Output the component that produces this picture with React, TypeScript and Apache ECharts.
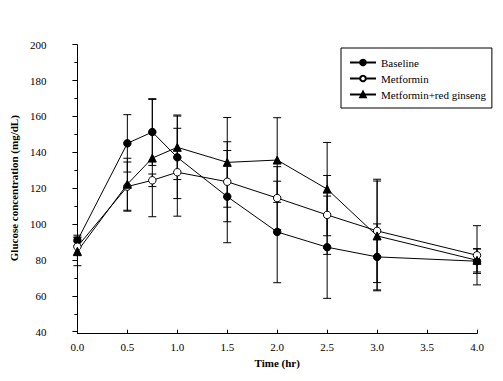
import React, { useEffect, useRef } from "react";
import * as echarts from "echarts";

const times = [0, 0.5, 0.75, 1.0, 1.5, 2.0, 2.5, 3.0, 4.0];
const baseline = [90.8, 145.0, 151.3, 137.2, 115.3, 95.6, 87.1, 81.7, 79.3];
const baselineSD = [3, 16, 18.6, 23, 25.7, 28.3, 28.5, 18.4, 6.8];
const metformin = [87.4, 120.9, 124.4, 128.9, 123.6, 114.5, 105.1, 96.2, 82.6];
const metforminSD = [5, 13.7, 3.5, 24.5, 22.3, 17.5, 22, 28.8, 16.5];
const ginseng = [84.8, 122.2, 136.8, 142.8, 134.4, 135.7, 119.5, 93.4, 79.8];
const ginsengSD = [8, 14.5, 32.7, 18, 25, 23.6, 26, 30.6, 6.5];
const seriesNames = ["Baseline", "Metformin", "Metformin+red ginseng"];

const FONT = "Liberation Serif";

function errData(vals: number[], sds: number[]) {
  return times.map((t, i) => [t, vals[i] - sds[i], vals[i] + sds[i]]);
}

function errorSeries(vals: number[], sds: number[]) {
  return {
    type: "custom",
    silent: true,
    z: 1,
    data: errData(vals, sds),
    encode: { x: 0, y: [1, 2] },
    renderItem: (params: any, api: any) => {
      const x = api.value(0);
      const lo = api.coord([x, api.value(1)]);
      const hi = api.coord([x, api.value(2)]);
      const hw = 4;
      const style = { stroke: "#000", lineWidth: 1 };
      return {
        type: "group",
        children: [
          { type: "line", shape: { x1: lo[0], y1: lo[1], x2: hi[0], y2: hi[1] }, style },
          { type: "line", shape: { x1: lo[0] - hw, y1: lo[1], x2: lo[0] + hw, y2: lo[1] }, style },
          { type: "line", shape: { x1: hi[0] - hw, y1: hi[1], x2: hi[0] + hw, y2: hi[1] }, style },
        ],
      };
    },
  };
}

function lineSeries(name: string, vals: number[], symbol: string, size: number, fill: string) {
  return {
    name,
    type: "line",
    z: 3,
    data: times.map((t, i) => [t, vals[i]]),
    symbol,
    symbolSize: size,
    showAllSymbol: true,
    lineStyle: { color: "#000", width: 1 },
    itemStyle: { color: fill, borderColor: "#000", borderWidth: 1 },
  };
}

export default function App() {
  const ref = useRef<HTMLDivElement>(null);
  useEffect(() => {
    if (!ref.current) return;
    const chart = echarts.init(ref.current, null, { renderer: "svg" });
    chart.setOption({
      animation: false,
      backgroundColor: "#fff",
      textStyle: { fontFamily: FONT },
      grid: { left: 75, right: 26, top: 44.7, bottom: 49.3 },
      legend: {
        data: seriesNames,
        orient: "vertical",
        left: 341,
        top: 48,
        itemWidth: 26,
        itemHeight: 7,
        itemGap: 5,
        padding: [9, 6, 8, 8],
        borderColor: "#000",
        borderWidth: 1,
        backgroundColor: "#fff",
        textStyle: { fontFamily: FONT, fontSize: 11, color: "#000", padding: [0, 0, 0, 0] },
      },
      xAxis: {
        type: "value",
        min: 0,
        max: 4,
        interval: 0.5,
        offset: 2,
        name: "Time (hr)",
        nameLocation: "middle",
        nameGap: 23,
        nameTextStyle: { fontFamily: FONT, fontSize: 11, fontWeight: "bold", color: "#000" },
        axisLine: { show: true, lineStyle: { color: "#000", width: 1 } },
        axisTick: { show: true, inside: true, length: 4, lineStyle: { color: "#000" } },
        axisLabel: {
          fontFamily: FONT,
          fontSize: 11,
          color: "#000",
          margin: 8,
          formatter: (v: number) => v.toFixed(1),
        },
        splitLine: { show: false },
      },
      yAxis: {
        type: "value",
        min: 40,
        max: 200,
        interval: 20,
        offset: 22,
        name: "Glucose concentration (mg/dL)",
        nameLocation: "middle",
        nameGap: 36,
        nameTextStyle: { fontFamily: FONT, fontSize: 11, fontWeight: "bold", color: "#000" },
        axisLine: { show: true, lineStyle: { color: "#000", width: 1 } },
        axisTick: { show: true, inside: false, length: 5, lineStyle: { color: "#000" } },
        minorTick: { show: true, splitNumber: 2, length: 3, lineStyle: { color: "#000" } },
        axisLabel: { fontFamily: FONT, fontSize: 11, color: "#000", margin: 9 },
        splitLine: { show: false },
      },
      series: [
        errorSeries(baseline, baselineSD),
        errorSeries(metformin, metforminSD),
        errorSeries(ginseng, ginsengSD),
        lineSeries(seriesNames[0], baseline, "circle", 7.5, "#000"),
        lineSeries(seriesNames[1], metformin, "circle", 7.5, "#fff"),
        lineSeries(seriesNames[2], ginseng, "triangle", 8, "#000"),
      ],
    });
    return () => chart.dispose();
  }, []);
  return <div ref={ref} style={{ width: 503, height: 381, position: "absolute", left: 0, top: 0 }} />;
}
